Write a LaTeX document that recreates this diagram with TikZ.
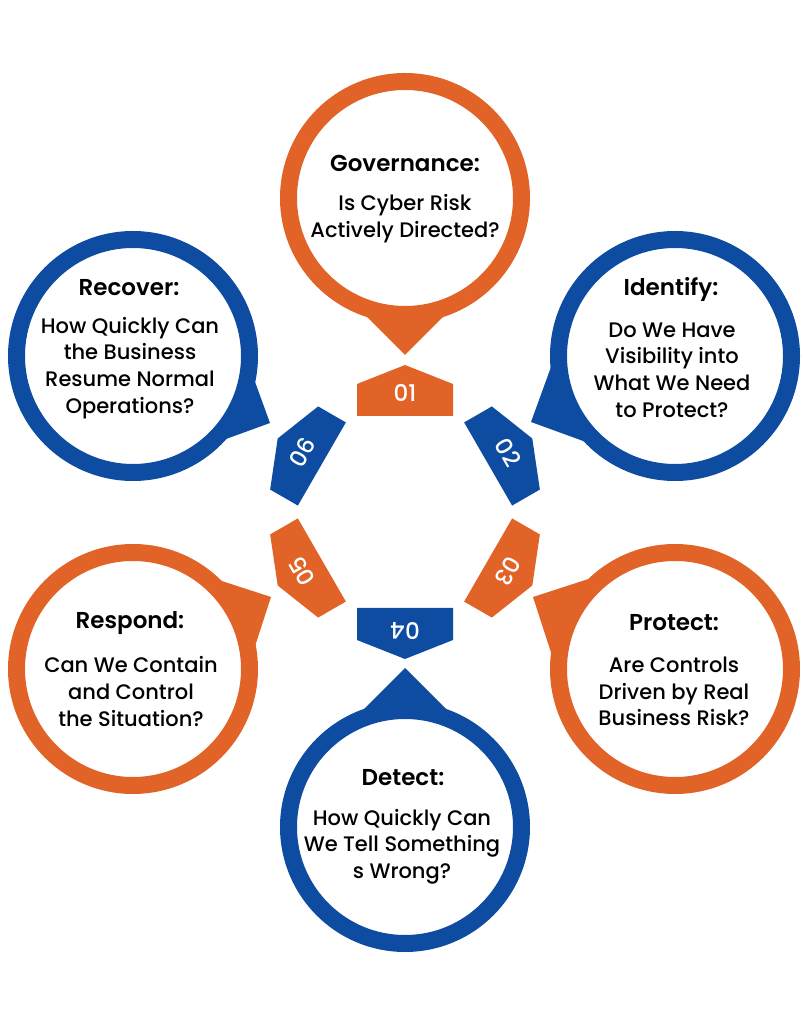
\documentclass[tikz,border=0pt]{standalone}
\usepackage{fontspec}
\setmainfont{Poppins}[UprightFont={* Medium},BoldFont={* SemiBold}]
\usepackage{tikz}
\usetikzlibrary{calc}
\definecolor{fw_orange}{RGB}{225,99,40}
\definecolor{fw_blue}{RGB}{14,76,162}

\begin{document}
\begin{tikzpicture}[x=1pt, y=1pt,
        ring_orange/.style={circle,draw=fw_orange,line width=17pt,fill=white,minimum size=233pt,inner sep=0pt},
        ring_blue/.style={circle,draw=fw_blue,line width=17pt,fill=white,minimum size=233pt,inner sep=0pt},
        title_style/.style={font=\fontsize{23}{28}\selectfont\bfseries},
        text_style/.style={font=\fontsize{21}{26.7}\selectfont,align=center},
        num_style/.style={text=white,font=\fontsize{23}{26}\selectfont}]

        \useasboundingbox (-405,-512) rectangle (400,512);

        \fill [fw_orange, rotate=0] (-48,96) -- (48,96) -- (48,128) -- (0,147) -- (-48,128) -- cycle;
        \fill [fw_blue, rotate=-60] (-48,96) -- (48,96) -- (48,128) -- (0,147) -- (-48,128) -- cycle;
        \fill [fw_orange, rotate=-120] (-48,96) -- (48,96) -- (48,128) -- (0,147) -- (-48,128) -- cycle;
        \fill [fw_blue, rotate=180] (-48,96) -- (48,96) -- (48,128) -- (0,147) -- (-48,128) -- cycle;
        \fill [fw_orange, rotate=120] (-48,96) -- (48,96) -- (48,128) -- (0,147) -- (-48,128) -- cycle;
        \fill [fw_blue, rotate=60] (-48,96) -- (48,96) -- (48,128) -- (0,147) -- (-48,128) -- cycle;
        \node [num_style, rotate=0] (k1) at (90:119) {01};
        \node [num_style, rotate=-60] (k2) at (30:119) {02};
        \node [num_style, rotate=-120] (k3) at (-30:119) {03};
        \node [num_style, rotate=180] (k4) at (-90:119) {04};
        \node [num_style, rotate=120] (k5) at (210:119) {05};
        \node [num_style, rotate=60] (k6) at (150:119) {06};

        \coordinate (gov_c) at (0,314);
        \coordinate (gov_tip) at (0,157);
        \coordinate (ide_c) at (270,156);
        \coordinate (ide_tip) at (126,90);
        \coordinate (pro_c) at (270,-157);
        \coordinate (pro_tip) at (128,-85);
        \coordinate (det_c) at (0,-315);
        \coordinate (det_tip) at (0,-156);
        \coordinate (res_c) at (-272,-157);
        \coordinate (res_tip) at (-134,-85);
        \coordinate (rec_c) at (-272,156);
        \coordinate (rec_tip) at (-135,89);

        \fill [fw_orange] (gov_tip) -- ($(gov_tip)+(45:70)$) -- (gov_c) -- ($(gov_tip)+(135:70)$) -- cycle;
        \fill [fw_blue] (ide_tip) -- ($(ide_tip)+(-20:70)$) -- (ide_c) -- ($(ide_tip)+(70:70)$) -- cycle;
        \fill [fw_orange] (pro_tip) -- ($(pro_tip)+(-72:70)$) -- (pro_c) -- ($(pro_tip)+(18:70)$) -- cycle;
        \fill [fw_blue] (det_tip) -- ($(det_tip)+(-45:70)$) -- (det_c) -- ($(det_tip)+(-135:70)$) -- cycle;
        \fill [fw_orange] (res_tip) -- ($(res_tip)+(162:70)$) -- (res_c) -- ($(res_tip)+(252:70)$) -- cycle;
        \fill [fw_blue] (rec_tip) -- ($(rec_tip)+(110:70)$) -- (rec_c) -- ($(rec_tip)+(200:70)$) -- cycle;

        \node [ring_orange] (gov) at (gov_c) {};
        \node [ring_blue] (ide) at (ide_c) {};
        \node [ring_orange] (pro) at (pro_c) {};
        \node [ring_blue] (det) at (det_c) {};
        \node [ring_orange] (res) at (res_c) {};
        \node [ring_blue] (rec) at (rec_c) {};

        \node [title_style] (gov_t) at (0,349) {Governance:};
        \node [text_style] (gov_q) at (0,293.5) {Is Cyber Risk\\Actively Directed?};
        \node [title_style] (ide_t) at (266,222) {Identify:};
        \node [text_style] (ide_q) at (267,142) {Do We Have\\Visibility into\\What We Need\\to Protect?};
        \node [title_style] (pro_t) at (269,-111) {Protect:};
        \node [text_style] (pro_q) at (269,-179.5) {Are Controls\\Driven by Real\\Business Risk?};
        \node [title_style] (det_t) at (-2,-266) {Detect:};
        \node [text_style] (det_q) at (-3,-334.5) {How Quickly Can\\We Tell Something\\s Wrong?};
        \node [title_style] (res_t) at (-275,-111) {Respond:};
        \node [text_style] (res_q) at (-274,-179.5) {Can We Contain\\and Control\\the Situation?};
        \node [title_style] (rec_t) at (-276,224) {Recover:};
        \node [text_style] (rec_q) at (-275,144) {How Quickly Can\\the Business\\Resume Normal\\Operations?};
\end{tikzpicture}
\end{document}
